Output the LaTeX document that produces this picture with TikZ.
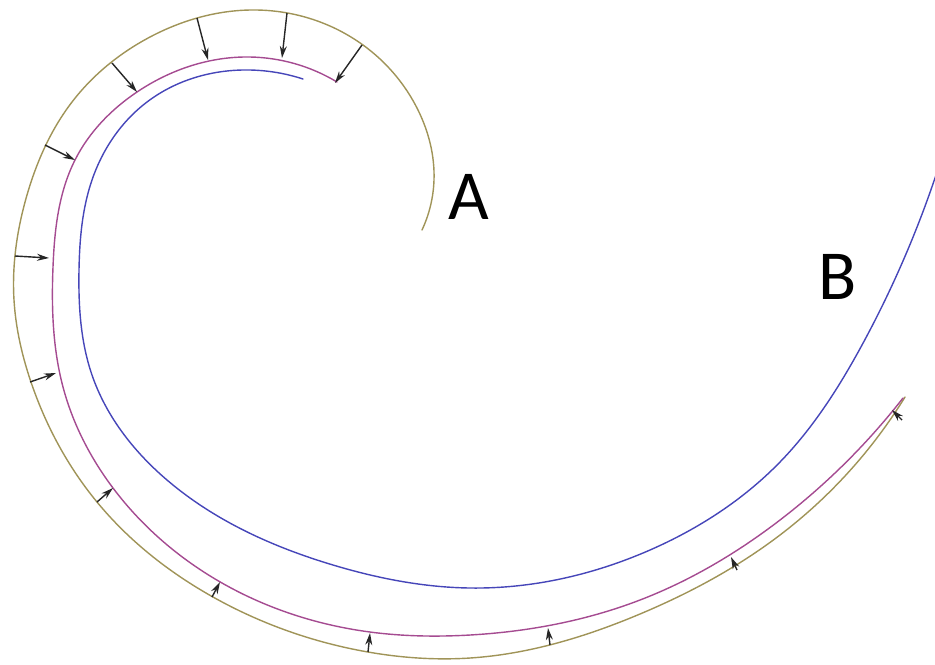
\documentclass[tikz,border=0pt]{standalone}
\usepackage{fontspec}
\newfontfamily\labelfont{Carlito}
\usetikzlibrary{arrows.meta,hobby}
\definecolor{sheetolive}{RGB}{160,148,88}
\definecolor{sheetpurple}{RGB}{165,75,145}
\definecolor{sheetblue}{RGB}{70,70,185}
\tikzset{
  curveline/.style={line width=0.8pt, line cap=round},
  pressarrow/.style={line width=0.8pt, black!85, -{Stealth[length=0.24cm, width=0.14cm]}},
  letter/.style={font=\labelfont\fontsize{40}{40}\selectfont, inner sep=0pt}
}
\begin{document}
\begin{tikzpicture}[x=0.02cm, y=-0.02cm, use Hobby shortcut]
        \useasboundingbox (0,0) rectangle (935,664);
        % Curva exterior (A)
        \draw[curveline, sheetolive] (422,230) .. (434,180) .. (418,110)
          .. (363,45) .. (257,10) .. (150,37) .. (72,102) .. (27,195)
          .. (14,300) .. (32,385) .. (97,502) .. (213,597) .. (368,652)
          .. (470,658) .. (640,614) .. (780,535) .. (905,397);
        % Curva intermedia
        \draw[curveline, sheetpurple] (337,82) .. (250,57) .. (137,92)
          .. (75,160) .. (53,267) .. (63,387) .. (113,488) .. (222,583)
          .. (370,632) .. (470,635) .. (640,600) .. (780,520) .. (903,398);
        % Curva interior (B)
        \draw[curveline, sheetblue] (303,79) .. (250,70) .. (147,102)
          .. (92,180) .. (79,270) .. (92,375) .. (167,480) .. (333,565)
          .. (470,588) .. (650,550) .. (780,462) .. (862,345) .. (937,172);
        % Flechas de presion
        \foreach \tx/\ty/\hx/\hy [count=\i] in {197/18/208/60, 287/13/282/58,
            362/45/335/83, 112/63/137/92, 45/145/75/160, 15/256/49/258,
            30/382/56/373, 97/502/113/488, 212/597/220/582, 368/652/370/633,
            550/645/548/628, 737/570/731/557, 902/420/892/410} {
          \coordinate (out\i) at (\tx,\ty);
          \coordinate (in\i) at (\hx,\hy);
          \draw[pressarrow] (out\i) -- (in\i);
        }
        % Etiquetas
        \node[letter] (labA) at (469,197) {A};
        \node[letter] (labB) at (838,277) {B};
    \end{tikzpicture}
\end{document}
